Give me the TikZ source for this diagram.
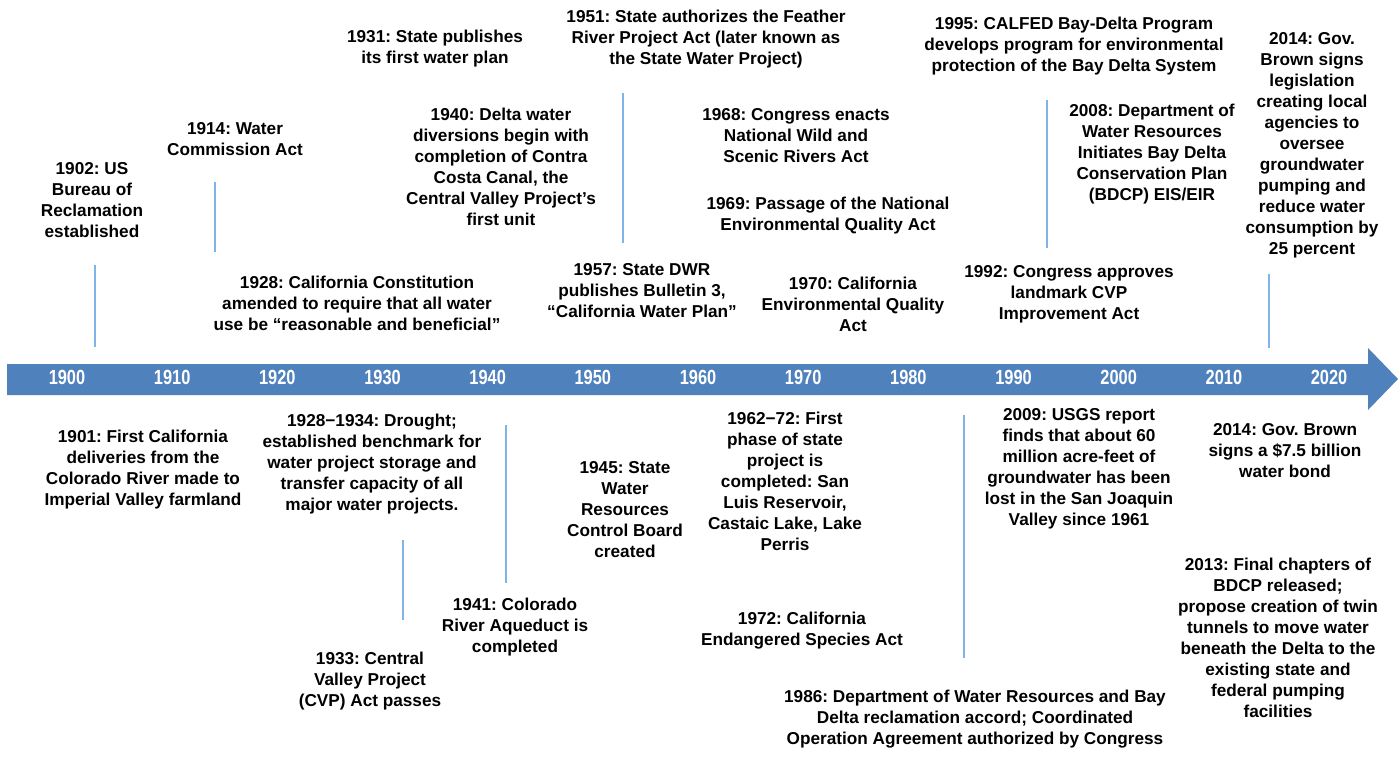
\documentclass[tikz,border=0pt]{standalone}
\usepackage{fontspec}
\usepackage{tikz}
\setmainfont{Liberation Sans}
\newfontfamily\yearfont{Liberation Sans}[FakeStretch=0.8]
\frenchspacing

\begin{document}
\begin{tikzpicture}[x=1pt,y=1pt,
  event/.style={text=black,anchor=north,align=center,inner sep=0pt,outer sep=0pt,
    font=\bfseries\fontsize{17.2}{21}\selectfont},
  yearlbl/.style={text=white,anchor=center,inner sep=0pt,outer sep=0pt,
    font=\yearfont\bfseries\fontsize{20.5}{22}\selectfont},
  marker/.style={draw=lineColor,line width=1.2pt}]
\definecolor{fillColor}{RGB}{255,255,255}
\definecolor{barColor}{RGB}{79,129,189}
\definecolor{lineColor}{RGB}{128,180,232}
\path[use as bounding box,fill=fillColor] (0,0) rectangle (1399,764);

% arrow band
\path[fill=barColor] (7,400) -- (1368,400) -- (1368,416) -- (1398,385) --
    (1368,354) -- (1368,369) -- (7,369) -- cycle;
\foreach \yr [count=\i from 0] in {1900,1910,...,2020}
  \node[yearlbl] (y\yr) at (67+105.17*\i,387) {\yr};

% above the band
\node[event] (e1902) at (92,602) {1902: US\\Bureau of\\Reclamation\\established};
\node[event] (e1914) at (235,642) {1914: Water\\Commission Act};
\node[event] (e1928) at (357,488) {1928: California Constitution\\amended to require that all water\\use be “reasonable and beneficial”};
\node[event] (e1931) at (435,734) {1931: State publishes\\its first water plan};
\node[event] (e1940) at (501,656) {1940: Delta water\\diversions begin with\\completion of Contra\\Costa Canal, the\\Central Valley Project’s\\first unit};
\node[event] (e1951) at (706,754) {1951: State authorizes the Feather\\River Project Act (later known as\\the State Water Project)};
\node[event] (e1957) at (642,501) {1957: State DWR\\publishes Bulletin 3,\\“California Water Plan”};
\node[event] (e1968) at (796,656) {1968: Congress enacts\\National Wild and\\Scenic Rivers Act};
\node[event] (e1969) at (828,567) {1969: Passage of the National\\Environmental Quality Act};
\node[event] (e1970) at (853,487) {1970: California\\Environmental Quality\\Act};
\node[event] (e1992) at (1069,499) {1992: Congress approves\\landmark CVP\\Improvement Act};
\node[event] (e1995) at (1074,747) {1995: CALFED Bay-Delta Program\\develops program for environmental\\protection of the Bay Delta System};
\node[event] (e2008) at (1152,660) {2008: Department of\\Water Resources\\Initiates Bay Delta\\Conservation Plan\\(BDCP) EIS/EIR};
\node[event] (e2014a) at (1312,732) {2014: Gov.\\Brown signs\\legislation\\creating local\\agencies to\\oversee\\groundwater\\pumping and\\reduce water\\consumption by\\25 percent};

% below the band
\node[event] (e1901) at (143,334) {1901: First California\\deliveries from the\\Colorado River made to\\Imperial Valley farmland};
\node[event] (e1928b) at (372,350) {1928−1934: Drought;\\established benchmark for\\water project storage and\\transfer capacity of all\\major water projects.};
\node[event] (e1933) at (370,112) {1933: Central\\Valley Project\\(CVP) Act passes};
\node[event] (e1941) at (515,166) {1941: Colorado\\River Aqueduct is\\completed};
\node[event] (e1945) at (625,303) {1945: State\\Water\\Resources\\Control Board\\created};
\node[event] (e1962) at (785,352) {1962−72: First\\phase of state\\project is\\completed: San\\Luis Reservoir,\\Castaic Lake, Lake\\Perris};
\node[event] (e1972) at (802,152) {1972: California\\Endangered Species Act};
\node[event] (e1986) at (975,74) {1986: Department of Water Resources and Bay\\Delta reclamation accord; Coordinated\\Operation Agreement authorized by Congress};
\node[event] (e2009) at (1079,356) {2009: USGS report\\finds that about 60\\million acre-feet of\\groundwater has been\\lost in the San Joaquin\\Valley since 1961};
\node[event] (e2014b) at (1285,341) {2014: Gov. Brown\\signs a \$7.5 billion\\water bond};
\node[event] (e2013) at (1278,206) {2013: Final chapters of\\BDCP released;\\propose creation of twin\\tunnels to move water\\beneath the Delta to the\\existing state and\\federal pumping\\facilities};

% marker lines
\coordinate (m1902a) at (95,499);   \coordinate (m1902b) at (95,417);
\coordinate (m1914a) at (215,582);  \coordinate (m1914b) at (215,512);
\coordinate (m1951a) at (623,671);  \coordinate (m1951b) at (623,521);
\coordinate (m2008a) at (1047,664); \coordinate (m2008b) at (1047,516);
\coordinate (m2014a) at (1269,490); \coordinate (m2014b) at (1269,416);
\coordinate (m1933a) at (403,224);  \coordinate (m1933b) at (403,144);
\coordinate (m1941a) at (506,339);  \coordinate (m1941b) at (506,181);
\coordinate (m1986a) at (964,349);  \coordinate (m1986b) at (964,106);
\foreach \m in {1902,1914,1951,2008,2014,1933,1941,1986}
  \path[marker] (m\m a) -- (m\m b);
\end{tikzpicture}
\end{document}
